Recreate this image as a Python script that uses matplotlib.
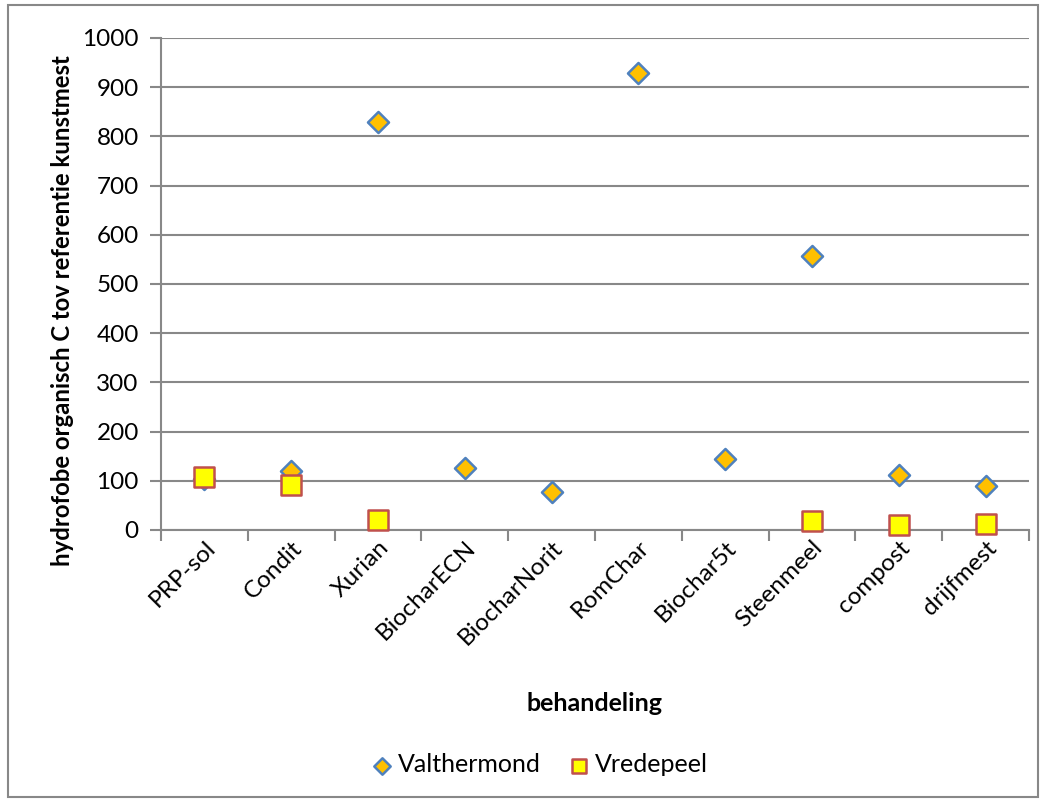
#!/usr/bin/env python3

import numpy as np
import matplotlib
matplotlib.use("Agg")
import matplotlib.pyplot as plt

categories = ["PRP-sol", "Condit", "Xurian", "BiocharECN", "BiocharNorit",
              "RomChar", "Biochar5t", "Steenmeel", "compost", "drijfmest"]
valthermond = [103, 120, 829, 126, 77, 929, 144, 557, 112, 89]
vredepeel = [108, 92, 20, np.nan, np.nan, np.nan, np.nan, 18, 10, 12]
yticks = [0, 100, 200, 300, 400, 500, 600, 700, 800, 900, 1000]


def main():
    plt.rcParams['font.family'] = ['Lato', 'DejaVu Sans']
    fig = plt.figure(figsize=(10.46, 8), dpi=100)
    # outer chart border
    fig.patches.append(plt.Rectangle((0.008, 0.004), 0.984, 0.99, transform=fig.transFigure,
                                     fill=False, ec='#888888', lw=1.5))
    ax = fig.add_axes([0.1539, 0.3375, 0.8298, 0.615])

    x = np.arange(len(categories)) + 0.5
    ax.scatter(x, valthermond, marker='D', s=115, c='#FFC000', edgecolors='#4F81BD',
               linewidths=1.8, zorder=3, label='Valthermond', clip_on=False)
    ax.scatter(x, vredepeel, marker='s', s=190, c='#FFFF00', edgecolors='#C0504D',
               linewidths=1.8, zorder=4, label='Vredepeel', clip_on=False)

    ax.set_xlim(0, len(categories))
    ax.set_ylim(0, 1000)
    ax.set_yticks(yticks)
    ax.set_yticklabels([str(v) for v in yticks], fontsize=17.5)
    ax.set_xticks(np.arange(len(categories) + 1))
    ax.set_xticklabels([])
    ax.set_xticks(x, minor=True)
    ax.set_xticklabels(categories, minor=True, rotation=45, ha='right',
                       rotation_mode='anchor', fontsize=17.5)
    ax.tick_params(axis='x', which='minor', length=0, pad=5)
    ax.tick_params(axis='both', which='major', length=8, color='#888888', width=1.5)
    ax.tick_params(axis='y', pad=8)

    ax.grid(axis='y', color='#888888', lw=1.5)
    ax.set_axisbelow(True)
    for side in ['top', 'right']:
        ax.spines[side].set_visible(False)
    for side in ['left', 'bottom']:
        ax.spines[side].set_color('#888888')
        ax.spines[side].set_linewidth(1.5)

    ax.set_ylabel("hydrofobe organisch C tov referentie kunstmest", fontsize=17.2,
                  fontweight='bold')
    ax.yaxis.set_label_coords(-0.1, 0.445)
    ax.set_xlabel("behandeling", fontsize=18, fontweight='bold')
    ax.xaxis.set_label_coords(0.5, -0.33)

    ax.legend(loc='center', bbox_to_anchor=(0.515, 0.044), bbox_transform=fig.transFigure,
              ncol=2, frameon=False, fontsize=18, handletextpad=0.15, columnspacing=1.0,
              handlelength=1.0, markerscale=0.78)

    fig.savefig("out.png", dpi=100)
    plt.close()


if __name__ == '__main__':
    main()
